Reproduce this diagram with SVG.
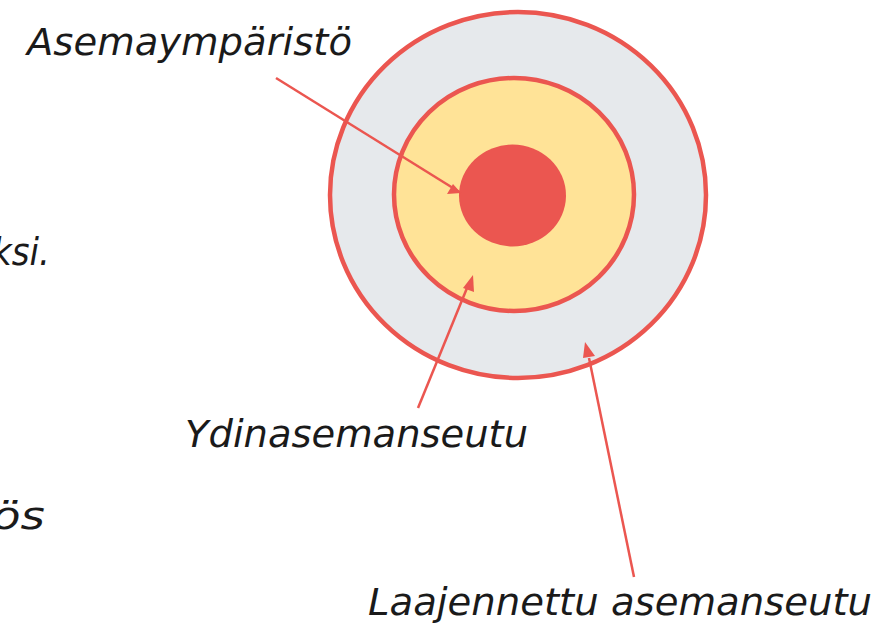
<svg xmlns="http://www.w3.org/2000/svg" width="879" height="625" viewBox="0 0 879 625">
<style>
.t{font-family:"DejaVu Sans","Liberation Sans",sans-serif;font-style:italic;font-size:37px;fill:#1a1a1a}
.c{stroke:#EB5650;stroke-width:4.5}
.a{stroke:#EB5650;stroke-width:2.5;fill:none;marker-end:url(#ah)}
</style>
<defs>
<marker id="ah" viewBox="0 0 10 10" refX="9" refY="5" markerWidth="7" markerHeight="7" markerUnits="userSpaceOnUse" orient="auto">
<path d="M0,0 L10,5 L0,10 z" fill="#EB5650"/>
</marker>
</defs>
<rect width="879" height="625" fill="#fff"/>
<g id="outer"><ellipse class="c" cx="518" cy="195" rx="188" ry="183" fill="#E6E9EC"/></g>
<g id="middle"><ellipse class="c" cx="514" cy="194.5" rx="120" ry="116.5" fill="#FFE397"/></g>
<g id="core"><ellipse cx="512.5" cy="195.5" rx="53.5" ry="51" fill="#EB5650"/></g>
<g id="connectors">
<line class="a" x1="276" y1="78" x2="461" y2="193" style="marker-end:none"/>
<path d="M461,193 L447,194 L453,184 z" fill="#EB5650"/>
<line x1="418" y1="408" x2="467" y2="288" stroke="#EB5650" stroke-width="2.5"/>
<path d="M473,275 L474,292 L463,288 z" fill="#EB5650"/>
<line x1="634" y1="577" x2="589" y2="358" stroke="#EB5650" stroke-width="2.5"/>
<path d="M585,342 L595,356 L583,358 z" fill="#EB5650"/>
</g>
<g id="labels">
<text class="t" x="27" y="55" textLength="325" lengthAdjust="spacingAndGlyphs">Asemaympäristö</text>
<text class="t" x="185" y="447" textLength="343" lengthAdjust="spacingAndGlyphs">Ydinasemanseutu</text>
<text class="t" x="368" y="615" textLength="504" lengthAdjust="spacingAndGlyphs">Laajennettu asemanseutu</text>
<text class="t" x="-8" y="265" textLength="58" lengthAdjust="spacingAndGlyphs">ksi.</text>
<text class="t" x="-8" y="529" textLength="53" lengthAdjust="spacingAndGlyphs">ös</text>
</g>
</svg>
